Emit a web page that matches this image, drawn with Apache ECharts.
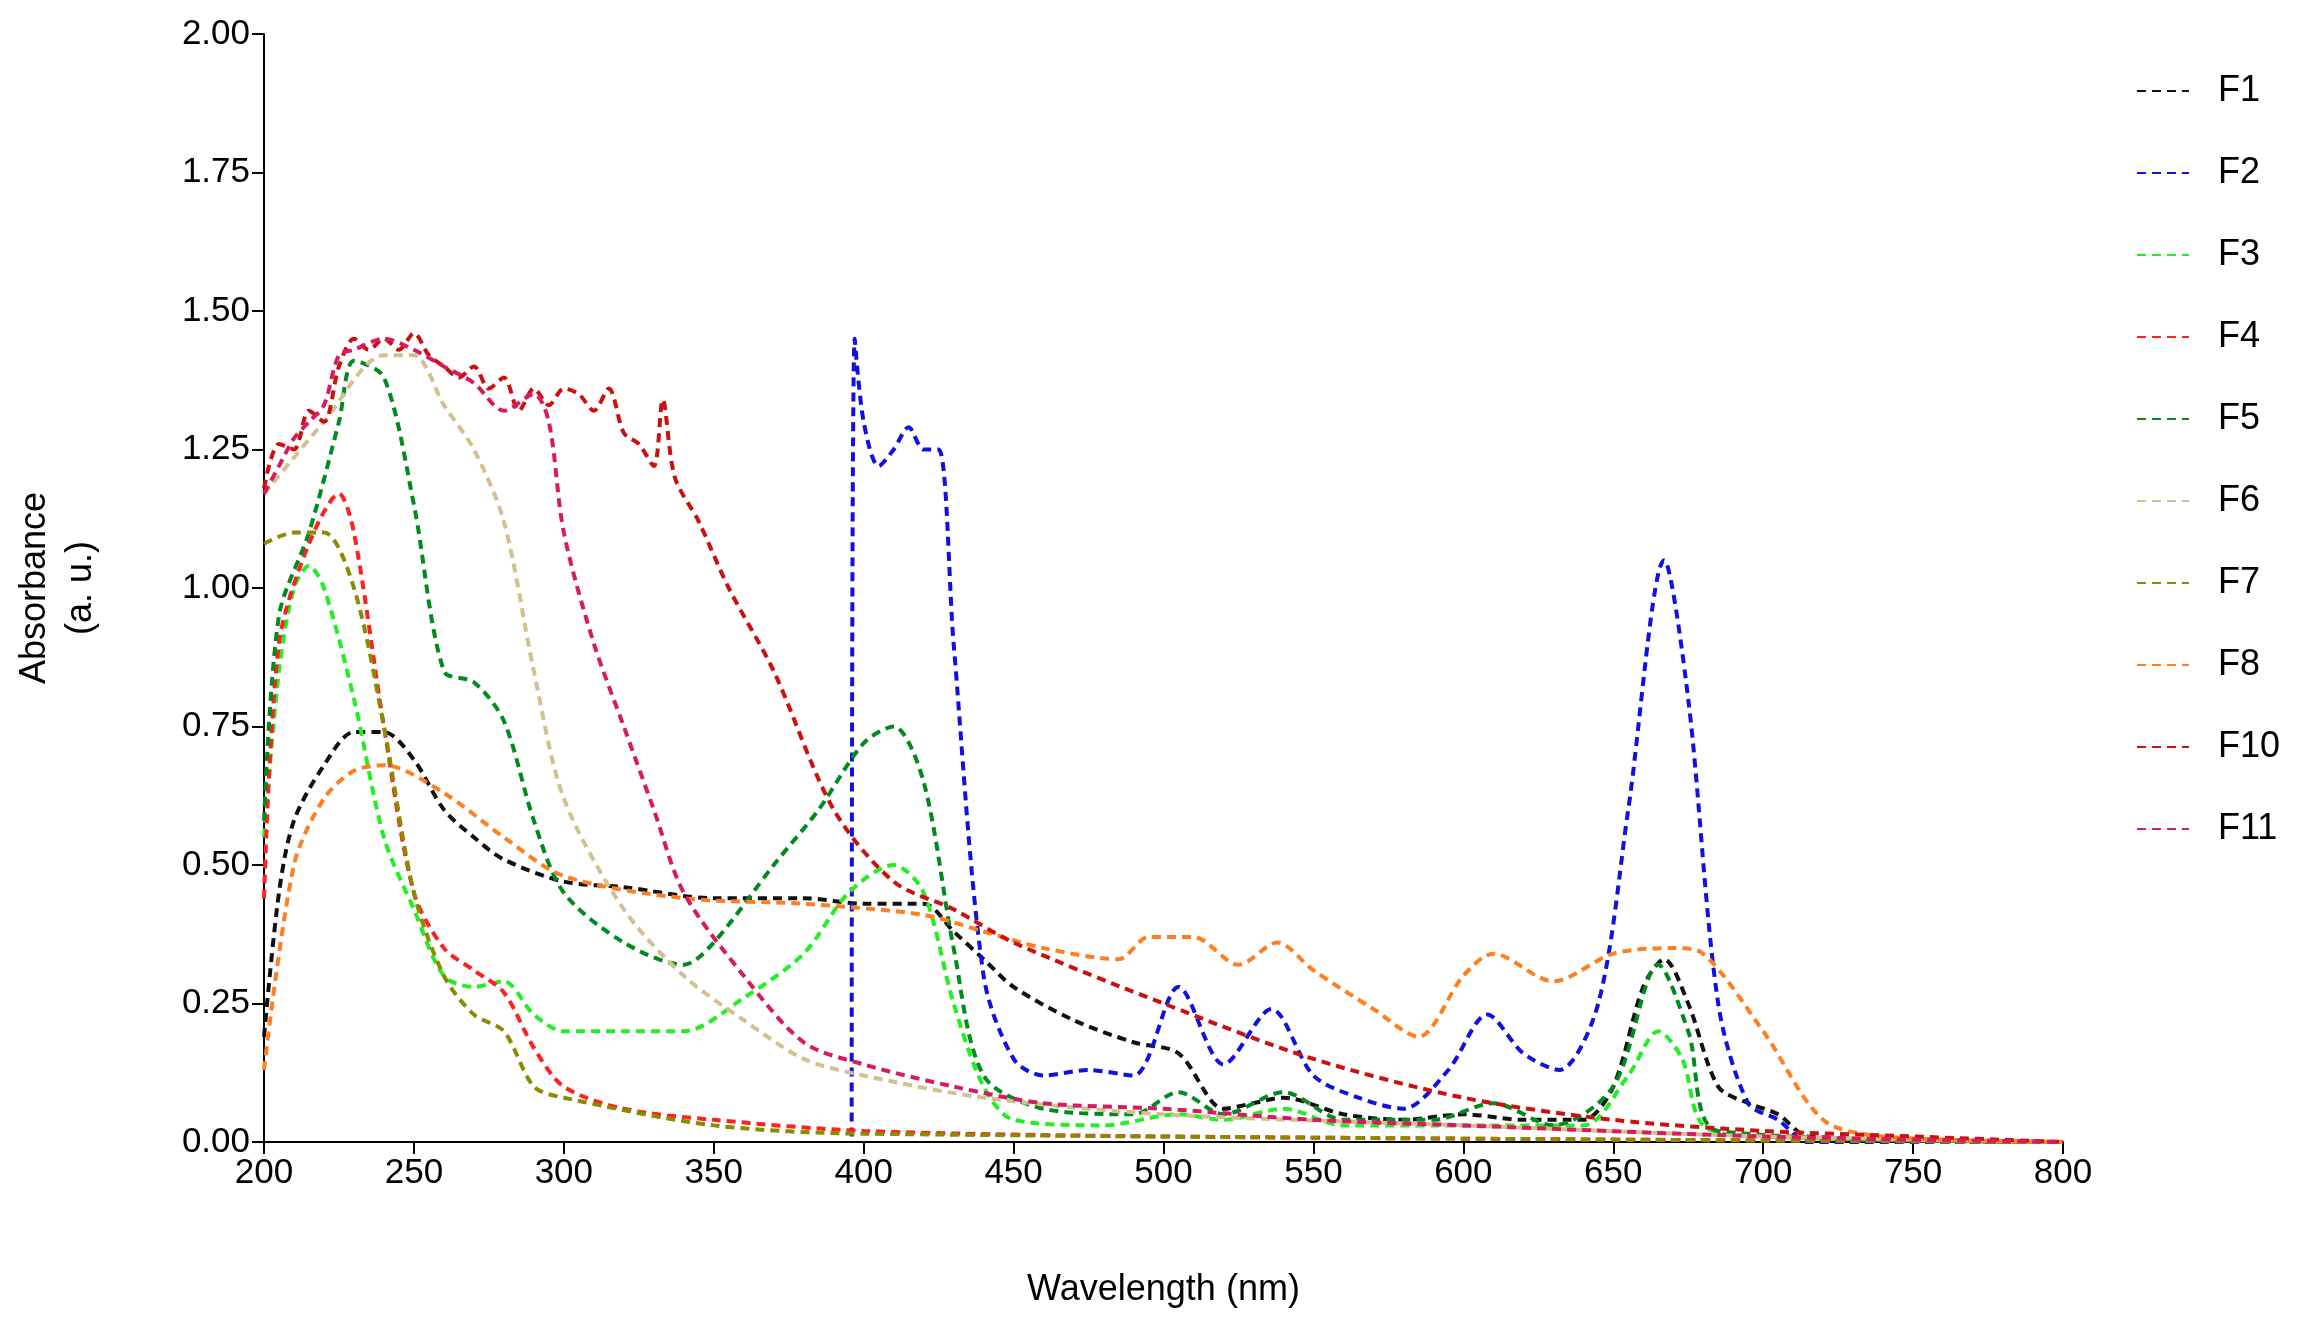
<!DOCTYPE html>
<html><head><meta charset="utf-8">
<script src="https://cdn.jsdelivr.net/npm/echarts@6/dist/echarts.min.js"></script>
<style>html,body{margin:0;background:#fff}#c{width:2299px;height:1342px}</style>
</head><body><div id="c"></div>
<script>
const names=["F1","F2","F3","F4","F5","F6","F7","F8","F10","F11"];
const colors=["#111111","#1010e0","#22ee22","#ff2020","#008a20","#d2c090","#8b8b00","#ff7f20","#cc1010","#d81b60"];
const wlF1=[200,205,210,220,230,240,250,260,270,280,300,320,350,380,400,420,430,440,450,470,490,505,520,530,540,560,580,600,620,640,650,660,667,675,685,695,705,715,800];
const abF1=[0.19,0.45,0.58,0.68,0.74,0.74,0.69,0.60,0.55,0.51,0.47,0.46,0.44,0.44,0.43,0.43,0.38,0.33,0.28,0.22,0.18,0.16,0.06,0.07,0.08,0.05,0.04,0.05,0.04,0.04,0.10,0.28,0.33,0.25,0.10,0.07,0.05,0.01,0];
const wlF2=[396,397,400,405,410,415,420,425,430,440,450,460,475,490,505,520,536,550,565,580,595,608,620,632,645,655,667,675,685,695,705,715,800];
const abF2=[0.01,1.45,1.30,1.22,1.25,1.29,1.25,1.25,0.9,0.3,0.15,0.12,0.13,0.12,0.28,0.14,0.24,0.12,0.08,0.06,0.13,0.23,0.16,0.13,0.25,0.6,1.05,0.8,0.25,0.07,0.04,0,0];
const wlF3=[200,205,210,215,220,230,240,250,260,270,280,290,300,320,340,360,380,395,410,420,430,440,450,480,505,520,540,560,600,640,655,665,673,680,700,800];
const abF3=[0.55,0.85,1.0,1.04,1.0,0.8,0.55,0.42,0.3,0.28,0.29,0.23,0.2,0.2,0.2,0.26,0.34,0.45,0.5,0.45,0.25,0.1,0.04,0.03,0.05,0.04,0.06,0.03,0.03,0.03,0.12,0.2,0.15,0.03,0.01,0];
const wlF4=[200,205,215,225,230,240,250,260,270,280,290,300,320,350,400,500,800];
const abF4=[0.44,0.9,1.08,1.17,1.1,0.75,0.45,0.35,0.31,0.27,0.17,0.1,0.06,0.04,0.02,0.01,0];
const wlF5=[200,205,215,225,230,240,250,260,270,280,290,300,320,340,350,370,385,400,410,420,430,440,460,490,505,520,540,560,590,610,630,650,665,675,685,800];
const abF5=[0.58,0.95,1.1,1.3,1.41,1.38,1.15,0.85,0.83,0.76,0.58,0.45,0.36,0.32,0.36,0.5,0.6,0.72,0.75,0.65,0.35,0.12,0.06,0.05,0.09,0.05,0.09,0.04,0.04,0.07,0.03,0.1,0.32,0.2,0.02,0];
const wlF6=[200,220,240,250,260,270,280,290,300,320,340,360,380,400,440,500,600,700,800];
const abF6=[1.17,1.3,1.42,1.42,1.33,1.25,1.12,0.85,0.62,0.42,0.3,0.22,0.15,0.12,0.08,0.05,0.03,0.01,0];
const wlF7=[200,210,220,230,240,250,260,270,280,290,300,350,400,800];
const abF7=[1.08,1.1,1.1,1.0,0.75,0.45,0.3,0.23,0.2,0.1,0.08,0.03,0.015,0];
const wlF8=[200,210,220,230,240,260,280,300,340,380,420,440,460,485,495,510,525,538,550,570,585,600,610,630,650,670,680,700,720,740,800];
const abF8=[0.13,0.5,0.62,0.67,0.68,0.63,0.55,0.48,0.44,0.43,0.41,0.38,0.35,0.33,0.37,0.37,0.32,0.36,0.31,0.24,0.19,0.3,0.34,0.29,0.34,0.35,0.34,0.2,0.04,0.01,0];
const wlF10=[200,205,210,215,220,225,230,235,240,245,250,255,260,265,270,275,280,285,290,295,300,305,310,315,320,325,330,333,337,345,355,370,390,410,430,450,500,550,600,650,700,750,800];
const abF10=[1.18,1.26,1.25,1.32,1.3,1.4,1.45,1.43,1.45,1.43,1.46,1.42,1.4,1.38,1.4,1.36,1.38,1.32,1.36,1.33,1.36,1.35,1.32,1.36,1.28,1.26,1.22,1.34,1.2,1.12,1.0,0.85,0.6,0.47,0.42,0.36,0.25,0.15,0.08,0.04,0.02,0.01,0];
const wlF11=[200,205,210,215,220,225,230,240,250,260,270,280,290,295,300,310,320,330,340,360,380,400,430,460,500,550,600,700,800];
const abF11=[1.17,1.22,1.27,1.3,1.33,1.42,1.43,1.45,1.43,1.4,1.37,1.32,1.35,1.3,1.1,0.9,0.75,0.6,0.45,0.3,0.18,0.14,0.1,0.07,0.06,0.04,0.03,0.01,0];
const wls=[wlF1,wlF2,wlF3,wlF4,wlF5,wlF6,wlF7,wlF8,wlF10,wlF11];
const abs=[abF1,abF2,abF3,abF4,abF5,abF6,abF7,abF8,abF10,abF11];
const font="Arial, Liberation Sans, sans-serif";
const series=names.map((n,i)=>({name:n,type:'line',smooth:0.3,symbol:'none',
  lineStyle:{color:colors[i],width:4,type:[9,6]},itemStyle:{color:colors[i]},
  data:wls[i].map((w,j)=>[w,abs[i][j]])}));
const chart=echarts.init(document.getElementById('c'));
chart.setOption({animation:false,backgroundColor:'#fff',
 grid:{left:264,right:236,top:34,bottom:200},
 legend:{orient:'vertical',right:14,top:68,itemGap:46,itemWidth:52,itemHeight:14,
  itemStyle:{opacity:0},
  textStyle:{fontSize:36,fontFamily:font,color:'#000',padding:[0,0,0,24]},data:names},
 xAxis:{type:'value',min:200,max:800,interval:50,name:'Wavelength (nm)',nameLocation:'middle',nameGap:130,
  nameTextStyle:{fontSize:36,fontFamily:font,color:'#000'},
  axisLine:{lineStyle:{color:'#000',width:2}},axisTick:{length:12,lineStyle:{color:'#000',width:2}},
  axisLabel:{fontSize:35,fontFamily:font,color:'#000',margin:14},splitLine:{show:false}},
 yAxis:{type:'value',min:0,max:2,interval:0.25,name:'Absorbance\n(a. u.)',nameLocation:'middle',nameGap:160,nameRotate:90,
  nameTextStyle:{fontSize:36,fontFamily:font,color:'#000',lineHeight:46},
  axisLine:{show:true,lineStyle:{color:'#000',width:2}},axisTick:{show:true,length:12,lineStyle:{color:'#000',width:2}},
  axisLabel:{fontSize:35,fontFamily:font,color:'#000',margin:14,formatter:v=>v.toFixed(2)},splitLine:{show:false}},
 series});
</script></body></html>
